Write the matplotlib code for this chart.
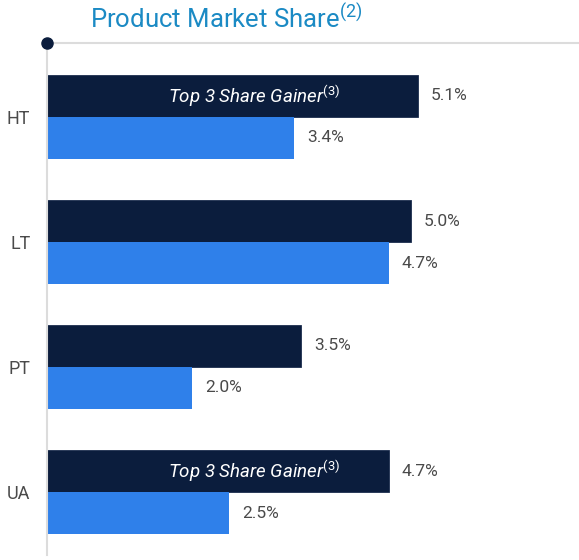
import numpy as np
import matplotlib.pyplot as plt

plt.rcParams['font.family'] = ['Roboto', 'DejaVu Sans']
plt.rcParams['mathtext.fontset'] = 'custom'
plt.rcParams['mathtext.rm'] = 'Roboto'
plt.rcParams['mathtext.it'] = 'Roboto:italic'

products = ["HT", "LT", "PT", "UA"]
share_a = [5.1, 5.0, 3.5, 4.7]   # dark bars
share_b = [3.4, 4.7, 2.0, 2.5]   # blue bars
gainers = ["HT", "UA"]

dark = "#0b1d3d"
blue = "#2f80ea"
grey_line = "#dcdcdc"
label_col = "#4a4a4a"

fig = plt.figure(figsize=(5.79, 5.60), dpi=100)
ax = fig.add_axes([47 / 579, 5 / 560, 532 / 579, 512 / 560])

y = np.arange(len(products))
h = 0.336
ax.barh(y - h / 2, share_a, height=h, color=dark, edgecolor="#1c2e4f", linewidth=0.6)
ax.barh(y + h / 2, share_b, height=h, color=blue)

ax.set_xlim(0, 532 / 72.7)
ax.set_ylim(3.504, -0.592)

for i, (a, b) in enumerate(zip(share_a, share_b)):
    ax.text(a + 0.18, i - h / 2, f"{a:.1f}%", va="center", ha="left",
            fontsize=12.5, color=label_col)
    ax.text(b + 0.18, i + h / 2, f"{b:.1f}%", va="center", ha="left",
            fontsize=12.5, color=label_col)
    if products[i] in gainers:
        ax.text(2.85, i - h / 2, r"Top 3 Share Gainer$^{\mathit{(3)}}$",
                va="center", ha="center", fontsize=13.5, color="white",
                style="italic")

ax.set_yticks(y)
ax.set_yticklabels(products, fontsize=13, color=label_col)
ax.tick_params(axis="y", length=0, pad=12)
ax.set_xticks([])
for s in ["top", "right", "bottom"]:
    ax.spines[s].set_visible(False)
ax.spines["left"].set_color(grey_line)
ax.spines["left"].set_linewidth(1.5)

# header rule with dot
fig.add_artist(plt.Line2D([47 / 579, 1], [1 - 43 / 560] * 2, color=grey_line, lw=1.5))
fig.add_artist(plt.Line2D([47 / 579], [1 - 43 / 560], marker="o", markersize=8,
                          color="#0b1d3d"))
fig.text(90 / 579, 1 - 18 / 560, r"Product Market Share$^{(2)}$", fontsize=18.5,
         color="#1b8ac4", va="center", ha="left")

plt.savefig("out.png", dpi=100)
